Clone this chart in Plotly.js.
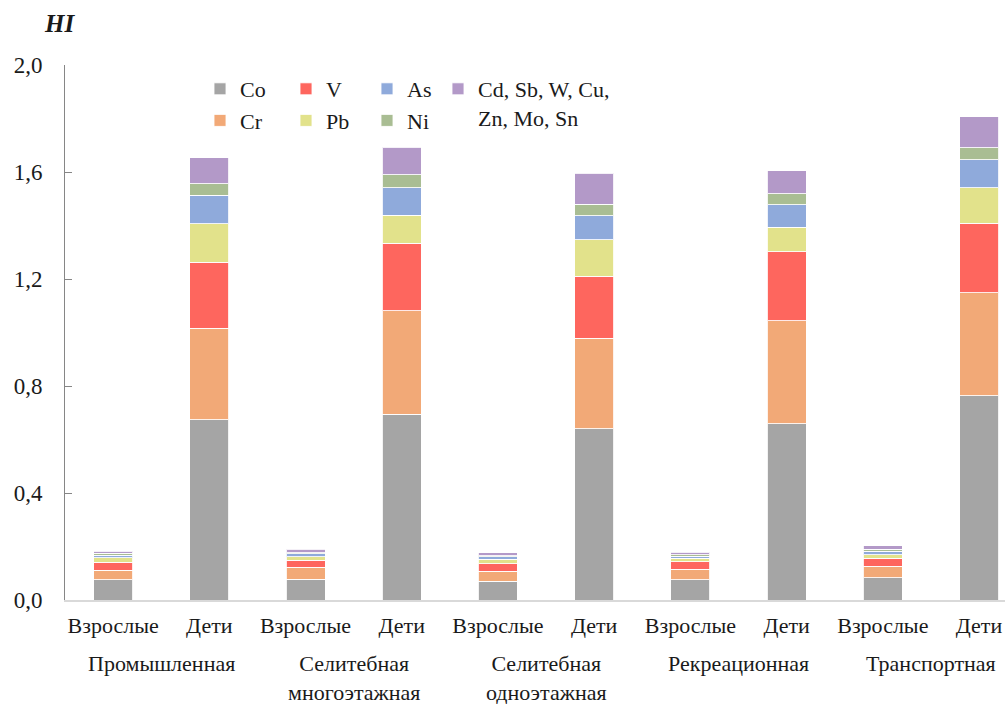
<!DOCTYPE html>
<html>
<head>
<meta charset="utf-8">
<script src="https://cdn.plot.ly/plotly-3.0.1.min.js"></script>
<style>html,body{margin:0;padding:0;background:#fff;}#chart{width:1006px;height:704px;}</style>
</head>
<body>
<div id="chart"></div>
<script>
// Categories
const zones = ['Промышленная', 'Селитебная<br>многоэтажная', 'Селитебная<br>одноэтажная', 'Рекреационная', 'Транспортная'];
const groups = ['Взрослые', 'Дети'];
// Bar labels (zone × group)
const barLabels = ['Взрослые', 'Дети', 'Взрослые', 'Дети', 'Взрослые', 'Дети', 'Взрослые', 'Дети', 'Взрослые', 'Дети'];

// Series values (HI contributions), order: zone1 adults, zone1 children, ...
const Co = [0.075, 0.674, 0.077, 0.695, 0.071, 0.640, 0.075, 0.658, 0.083, 0.764];
const Cr = [0.037, 0.342, 0.045, 0.386, 0.037, 0.339, 0.040, 0.386, 0.044, 0.384];
const V  = [0.029, 0.246, 0.026, 0.252, 0.028, 0.232, 0.028, 0.257, 0.030, 0.261];
const Pb = [0.017, 0.145, 0.013, 0.105, 0.016, 0.135, 0.014, 0.092, 0.012, 0.132];
const As = [0.009, 0.106, 0.012, 0.103, 0.009, 0.091, 0.007, 0.084, 0.014, 0.104];
const Ni = [0.008, 0.043, 0.004, 0.048, 0.005, 0.043, 0.005, 0.041, 0.007, 0.046];
const Cd = [0.008, 0.097, 0.013, 0.103, 0.010, 0.116, 0.010, 0.087, 0.012, 0.116];

const seriesNames = ['Co', 'Cr', 'V', 'Pb', 'As', 'Ni', 'Cd, Sb, W, Cu,<br>Zn, Mo, Sn'];
const seriesValues = [Co, Cr, V, Pb, As, Ni, Cd];
const seriesColors = ['#A5A5A5', '#F2A977', '#FE665E', '#E2E28B', '#8FAADB', '#A9BD93', '#B399C8'];
const seriesLegends = ['legend', 'legend', 'legend2', 'legend2', 'legend3', 'legend3', 'legend4'];
const yTicks = [0, 0.4, 0.8, 1.2, 1.6, 2.0];

const xPos = barLabels.map((_, i) => i);
const zonePos = zones.map((_, i) => i * groups.length + (groups.length - 1) / 2);

const FONT = 'Liberation Serif';
const TXT = '#1a1a1a';

const traces = seriesNames.map((name, k) => ({
  type: 'bar',
  name: name,
  x: xPos,
  y: seriesValues[k],
  width: 0.405,
  legend: seriesLegends[k],
  marker: {color: seriesColors[k], line: {color: 'rgba(255,255,255,0.85)', width: 1}},
  hoverinfo: 'y+name'
}));

const legendBase = {
  orientation: 'v', xanchor: 'left', yanchor: 'top', y: (600 - 68) / 535,
  bgcolor: 'rgba(0,0,0,0)', borderwidth: 0, traceorder: 'normal',
  font: {family: FONT, size: 22, color: TXT}, valign: 'top'
};
const lx = px => (px - 65) / 940;

const annotations = zones.map((z, i) => ({
  text: z, x: zonePos[i], xref: 'x', y: (600 - 649) / 535, yref: 'paper',
  xanchor: 'center', yanchor: 'top', showarrow: false,
  font: {family: FONT, size: 22, color: TXT}
}));
annotations.push({
  text: '<b><i>HI</i></b>', x: lx(59), xref: 'paper', y: (600 - 24) / 535, yref: 'paper',
  xanchor: 'center', yanchor: 'middle', showarrow: false,
  font: {family: FONT, size: 25, color: TXT}
});

const layout = {
  width: 1006, height: 704,
  margin: {l: 65, r: 1, t: 65, b: 104},
  paper_bgcolor: '#ffffff', plot_bgcolor: '#ffffff',
  barmode: 'stack',
  separators: ',.',
  font: {family: FONT, size: 22, color: TXT},
  xaxis: {
    range: [-0.5, 9.27], tickvals: xPos, ticktext: barLabels,
    showgrid: false, zeroline: false, showline: true, linecolor: '#D9D9D9', linewidth: 2,
    ticks: '', tickfont: {family: FONT, size: 22, color: TXT}, ticklabelstandoff: 5
  },
  yaxis: {
    range: [0, 2.0], tickvals: yTicks, tickformat: '.1f',
    showgrid: false, zeroline: false, showline: true, linecolor: '#868686', linewidth: 1,
    ticks: 'inside', ticklen: 7, tickcolor: '#868686', tickwidth: 1,
    tickfont: {family: FONT, size: 23, color: TXT}, ticklabelstandoff: 17
  },
  legend: Object.assign({}, legendBase, {x: lx(200)}),
  legend2: Object.assign({}, legendBase, {x: lx(286)}),
  legend3: Object.assign({}, legendBase, {x: lx(367)}),
  legend4: Object.assign({}, legendBase, {x: lx(438)}),
  annotations: annotations,
  showlegend: true
};

Plotly.newPlot('chart', traces, layout, {displayModeBar: false, staticPlot: true});
</script>
</body>
</html>
